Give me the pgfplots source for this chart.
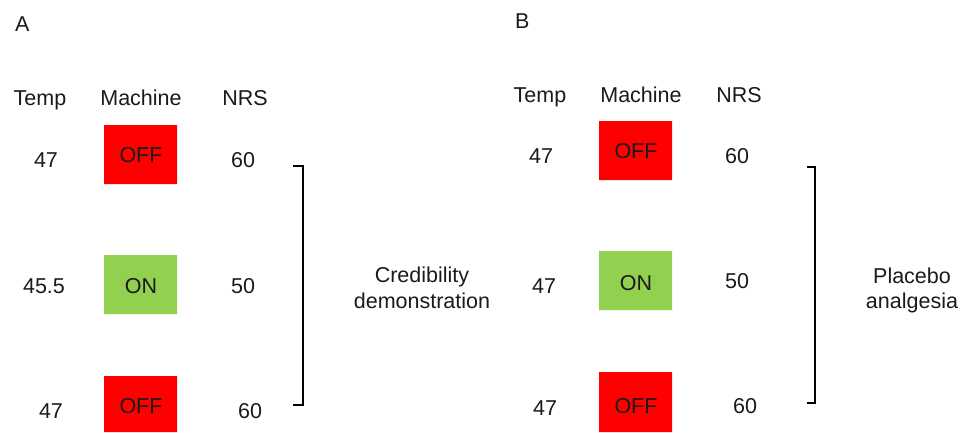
\documentclass[border=0pt]{standalone}
\usepackage{pgfplots}
\pgfplotsset{compat=1.18}
\usepackage{fontspec}
\setmainfont{Liberation Sans}
\definecolor{offred}{HTML}{FF0000}
\definecolor{ongreen}{HTML}{92D050}
\definecolor{txt}{HTML}{1A1A1A}
\tikzset{lbl/.style={font=\fontsize{21.5bp}{26bp}\selectfont, text=txt, anchor=base, inner sep=0pt}}
\begin{document}
\begin{tikzpicture}[x=1bp,y=1bp]
\begin{axis}[
  width=970bp, height=432bp, scale only axis,
  xmin=0, xmax=970, ymin=0, ymax=432, y dir=reverse,
  hide axis, clip=false,
]
% Boxes (machine state), panel A
\addplot[draw=none, fill=offred] coordinates {(104,125) (177,125) (177,184) (104,184) (104,125)};
\addplot[draw=none, fill=ongreen] coordinates {(104,255) (177,255) (177,314) (104,314) (104,255)};
\addplot[draw=none, fill=offred] coordinates {(104,376) (177,376) (177,432) (104,432) (104,376)};
% Boxes panel B
\addplot[draw=none, fill=offred] coordinates {(599,121) (672,121) (672,180) (599,180) (599,121)};
\addplot[draw=none, fill=ongreen] coordinates {(599,251) (672,251) (672,310) (599,310) (599,251)};
\addplot[draw=none, fill=offred] coordinates {(599,372) (672,372) (672,432) (599,432) (599,372)};
% Brackets
\addplot[black, line width=2.2bp] coordinates {(293,166) (303,166) (303,405) (293,405)};
\addplot[black, line width=2.2bp] coordinates {(807,167) (815,167) (815,403) (807,403)};
% Panel A text
\node[lbl, anchor=base west] at (axis cs:15,32) {A};
\node[lbl] at (axis cs:40,105) {Temp};
\node[lbl] at (axis cs:141,105) {Machine};
\node[lbl] at (axis cs:245,105) {NRS};
\node[lbl] at (axis cs:46,167) {47};
\node[lbl] at (axis cs:141,162) {OFF};
\node[lbl] at (axis cs:243,167) {60};
\node[lbl] at (axis cs:44,293) {45.5};
\node[lbl] at (axis cs:141,293) {ON};
\node[lbl] at (axis cs:243,293) {50};
\node[lbl] at (axis cs:51,418) {47};
\node[lbl] at (axis cs:141,413) {OFF};
\node[lbl] at (axis cs:250,418) {60};
\node[lbl] at (axis cs:422,282) {Credibility};
\node[lbl] at (axis cs:422,308) {demonstration};
% Panel B text
\node[lbl, anchor=base west] at (axis cs:515,29) {B};
\node[lbl] at (axis cs:540,102) {Temp};
\node[lbl] at (axis cs:641,102) {Machine};
\node[lbl] at (axis cs:739,102) {NRS};
\node[lbl] at (axis cs:541,163) {47};
\node[lbl] at (axis cs:636,158) {OFF};
\node[lbl] at (axis cs:737,163) {60};
\node[lbl] at (axis cs:544,293) {47};
\node[lbl] at (axis cs:636,290) {ON};
\node[lbl] at (axis cs:737,288) {50};
\node[lbl] at (axis cs:545,415) {47};
\node[lbl] at (axis cs:636,413) {OFF};
\node[lbl] at (axis cs:745,413) {60};
\node[lbl] at (axis cs:912,283) {Placebo};
\node[lbl] at (axis cs:912,308) {analgesia};
\end{axis}
\pgfresetboundingbox
\path (current axis.south west) rectangle (current axis.north east);
\end{tikzpicture}
\end{document}
